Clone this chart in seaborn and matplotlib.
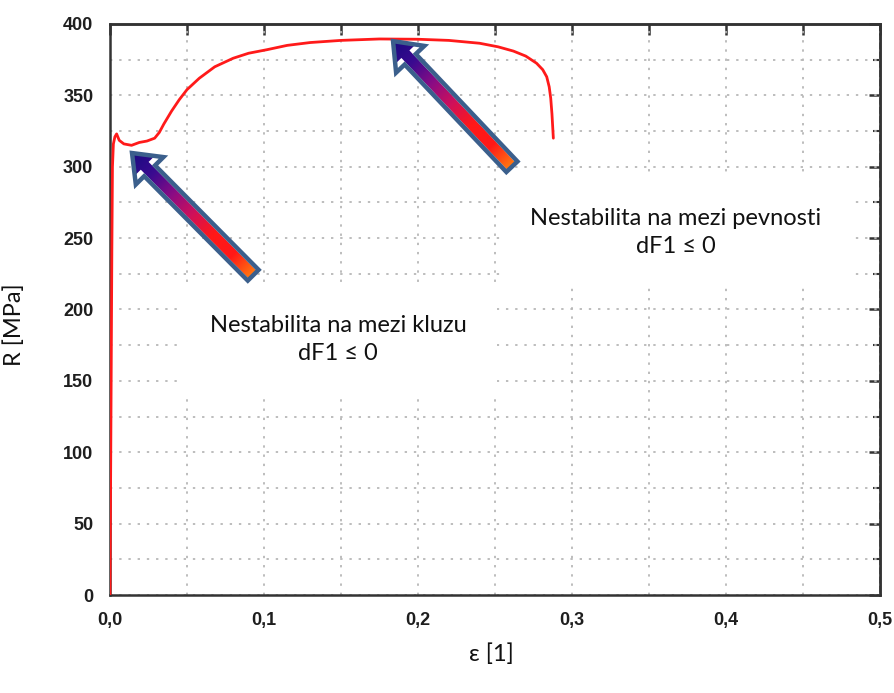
import numpy as np
import pandas as pd
import matplotlib
matplotlib.use('Agg')
from matplotlib import pyplot as plt
from matplotlib.patches import FancyArrowPatch, ArrowStyle
from matplotlib.colors import LinearSegmentedColormap
from matplotlib.ticker import MultipleLocator
import seaborn as sns

# stress-strain curve
strain = [0.0, 0.0004, 0.0008, 0.0012, 0.0016, 0.0022, 0.0032, 0.0043, 0.006, 0.009,
          0.014, 0.019, 0.024, 0.029, 0.032, 0.035, 0.040, 0.045, 0.050, 0.058,
          0.068, 0.080, 0.090, 0.102, 0.115, 0.130, 0.150, 0.175, 0.200, 0.220,
          0.240, 0.252, 0.262, 0.270, 0.277, 0.281, 0.2836, 0.2852, 0.2862, 0.2870, 0.2879]
stress = [0, 80, 160, 240, 300, 316, 321, 323, 318.5, 316,
          315, 317, 318, 320, 324, 330, 339, 347, 354, 362,
          370, 376, 379.5, 382, 385, 387, 388.5, 389.5, 389.3, 388.5,
          386.5, 384, 381, 377.5, 372.5, 368, 363, 356, 348, 337, 320]

x_ticks = [0.0, 0.1, 0.2, 0.3, 0.4, 0.5]
x_tick_labels = ['0,0', '0,1', '0,2', '0,3', '0,4', '0,5']
y_ticks = [0, 50, 100, 150, 200, 250, 300, 350, 400]

# arrows as (tail, tip) in data units
yield_arrow = [(0.093, 224), (0.0143, 309.6)]
ultimate_arrow = [(0.261, 300), (0.1838, 388)]

yield_text = 'Nestabilita na mezi kluzu\ndF1 ≤ 0'
yield_text_pos = (0.148, 179)
ultimate_text = 'Nestabilita na mezi pevnosti\ndF1 ≤ 0'
ultimate_text_pos = (0.3675, 254)

sns.set_style('white')
plt.rcParams['font.family'] = ['Liberation Sans', 'DejaVu Sans']
label_font = ['Lato', 'DejaVu Sans']

df = pd.DataFrame({'strain': strain, 'stress': stress})

fig = plt.figure(figsize=(8.95, 6.93), dpi=100)
ax = fig.add_axes([0.1229, 0.1414, 0.8603, 0.824])

sns.lineplot(data=df, x='strain', y='stress', ax=ax, color='#ff1a1a', lw=2.0,
             estimator=None, sort=False, zorder=5)

ax.set_xlim(0, 0.5)
ax.set_ylim(0, 400)
ax.set_xticks(x_ticks)
ax.set_xticklabels(x_tick_labels)
ax.set_yticks(y_ticks)
ax.xaxis.set_minor_locator(MultipleLocator(0.05))
ax.yaxis.set_minor_locator(MultipleLocator(25))

spine_col = '#333333'
for s in ax.spines.values():
    s.set_color(spine_col)
    s.set_linewidth(1.8)

ax.tick_params(which='major', direction='out', length=8, width=1.8, color=spine_col,
               labelsize=13, labelcolor='#1e1e1e', pad=4)
ax.tick_params(which='minor', direction='out', length=5, width=1.5, color=spine_col)
for lab in ax.get_xticklabels() + ax.get_yticklabels():
    lab.set_fontweight('bold')

# inward ticks on top and right
top = ax.secondary_xaxis('top')
top.set_xticks(x_ticks)
top.xaxis.set_minor_locator(MultipleLocator(0.05))
top.tick_params(which='both', direction='in', length=8, width=1.8, color=spine_col, labeltop=False)
right = ax.secondary_yaxis('right')
right.set_yticks(y_ticks)
right.yaxis.set_minor_locator(MultipleLocator(25))
right.tick_params(which='major', direction='in', length=8, width=1.8, color=spine_col, labelright=False)
right.tick_params(which='minor', direction='in', length=5, width=1.5, color=spine_col, labelright=False)
for sec in (top, right):
    for s in sec.spines.values():
        s.set_color(spine_col)
        s.set_linewidth(1.8)

ax.grid(True, which='both', color='#b8b8b8', lw=1.3, linestyle=(0, (1.3, 3.8)))
ax.set_axisbelow(True)

ax.set_xlabel('ε [1]', fontsize=17, family=label_font, color='#111111')
ax.set_ylabel('R [MPa]', fontsize=17, family=label_font, color='#111111')
ax.xaxis.set_label_coords(0.495, -0.085)
ax.yaxis.set_label_coords(-0.11, 0.473)

# text boxes
box = dict(boxstyle='square,pad=1.3', fc='white', ec='none')
ax.text(*yield_text_pos, yield_text, ha='center', va='center', fontsize=17,
        family=label_font, color='#111111', linespacing=1.45, bbox=box, zorder=3)
ax.text(*ultimate_text_pos, ultimate_text, ha='center', va='center', fontsize=17,
        family=label_font, color='#111111', linespacing=1.45, bbox=box, zorder=3)

# gradient arrows
arrow_cmap = LinearSegmentedColormap.from_list(
    'arr', ['#ff7a10', '#ff1818', '#ff1818', '#d0105a', '#8a0c84', '#3a0a90', '#1a0a80'])
xs = np.linspace(0, 0.5, 500)
ys = np.linspace(0, 400, 500)
gx, gy = np.meshgrid(xs, ys)
pts = ax.transData.transform(np.column_stack([gx.ravel(), gy.ravel()]))

for tail, tip in (yield_arrow, ultimate_arrow):
    style = ArrowStyle.Simple(head_length=18, head_width=28, tail_width=11)
    arr = FancyArrowPatch(tail, tip, arrowstyle=style, shrinkA=0, shrinkB=0,
                          fc='none', ec='#3b5f8c', lw=3.2, zorder=7, joinstyle='miter')
    ax.add_patch(arr)
    a = ax.transData.transform(tail)
    b = ax.transData.transform(tip)
    d = b - a
    t = ((pts - a) @ d) / (d @ d)
    t = np.clip(t, 0, 1).reshape(gx.shape)
    img = ax.imshow(t, extent=[0, 0.5, 0, 400], origin='lower', cmap=arrow_cmap,
                    aspect='auto', zorder=6, interpolation='bilinear')
    img.set_clip_path(arr)

ax.set_xlim(0, 0.5)
ax.set_ylim(0, 400)

fig.savefig('out.png', dpi=100)
